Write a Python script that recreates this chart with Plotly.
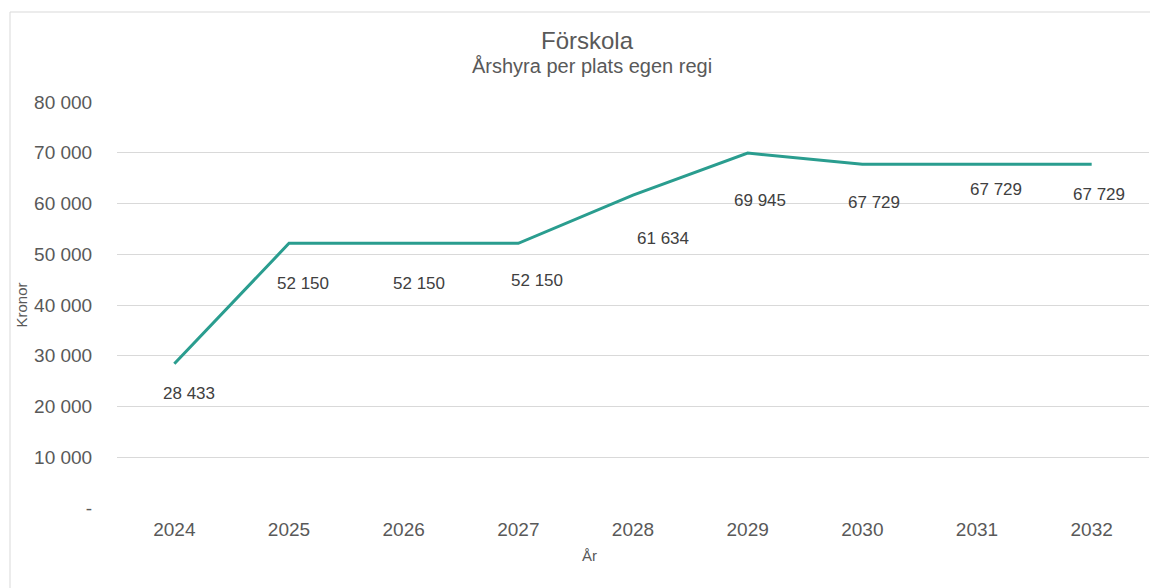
import plotly.graph_objects as go

years = ["2024", "2025", "2026", "2027", "2028", "2029", "2030", "2031", "2032"]
values = [28433, 52150, 52150, 52150, 61634, 69945, 67729, 67729, 67729]
labels = ["28 433", "52 150", "52 150", "52 150", "61 634", "69 945", "67 729", "67 729", "67 729"]
tick_vals = [0, 10000, 20000, 30000, 40000, 50000, 60000, 70000, 80000]
tick_text = ["-", "10 000", "20 000", "30 000", "40 000", "50 000", "60 000", "70 000", "80 000"]

# label offsets (pixels) as in the reference's manually placed data labels
label_dx = [15, 14, 15, 19, 30, 12, 12, 19, 7]
label_dy = [-30, -40, -40, -37, -43, -47, -38, -25, -30]

W, H = 1155, 588
L, R, T, B = 117, 6, 102, 80
FONT = "Liberation Sans, Arial, sans-serif"
GREY = "#595959"

fig = go.Figure()
fig.add_trace(go.Scatter(
    x=years, y=values, mode="lines",
    line=dict(color="#2A9D8F", width=3),
    hoverinfo="skip", showlegend=False,
))

for i, (v, t, dx, dy) in enumerate(zip(values, labels, label_dx, label_dy)):
    fig.add_annotation(x=i, y=v, xref="x", yref="y", text=t, showarrow=False,
                       xanchor="center", yanchor="middle", xshift=dx, yshift=dy,
                       font=dict(family=FONT, size=17, color="#404040"))

pw = W - L - R
ph = H - T - B
def px(x):
    return (x - L) / pw
def py(y):
    return 1 - (y - T) / ph

# chart frame
fig.add_shape(type="line", xref="paper", yref="paper", x0=px(10), x1=px(10), y0=py(12), y1=py(588),
              line=dict(color="#d9d9d9", width=1))
fig.add_shape(type="line", xref="paper", yref="paper", x0=px(10), x1=px(1150), y0=py(12), y1=py(12),
              line=dict(color="#d9d9d9", width=1))

fig.add_annotation(xref="paper", yref="paper", x=px(587), y=py(41), text="Förskola", showarrow=False,
                   xanchor="center", yanchor="middle",
                   font=dict(family=FONT, size=24, color=GREY))
fig.add_annotation(xref="paper", yref="paper", x=px(592), y=py(66), text="Årshyra per plats egen regi",
                   xanchor="center", yanchor="middle",
                   showarrow=False, font=dict(family=FONT, size=20, color=GREY))
# x-axis title (placed off-centre as in the reference)
fig.add_annotation(xref="paper", yref="paper", x=px(589), y=py(555), text="År",
                   xanchor="center", yanchor="middle",
                   showarrow=False, font=dict(family=FONT, size=15, color=GREY))

fig.update_layout(
    width=W, height=H,
    margin=dict(l=L, r=R, t=T, b=B),
    paper_bgcolor="white", plot_bgcolor="white",
    font=dict(family=FONT, color=GREY),
    showlegend=False,
    xaxis=dict(
        type="category", range=[-0.5, 8.5],
        showgrid=False, showline=False, zeroline=False,
        tickfont=dict(family=FONT, size=19, color=GREY),
        ticks="outside", ticklen=4, tickcolor="rgba(0,0,0,0)",
    ),
    yaxis=dict(
        range=[0, 80000], tickvals=tick_vals, ticktext=tick_text,
        showgrid=True, gridcolor="#d9d9d9", gridwidth=1,
        zeroline=False, showline=False,
        tickfont=dict(family=FONT, size=19, color=GREY),
        ticks="outside", ticklen=20, tickcolor="rgba(0,0,0,0)",
        title=dict(text="Kronor", font=dict(family=FONT, size=15, color=GREY), standoff=2),
    ),
)

fig.write_html("out.html", config={"displayModeBar": False},
               post_script="document.body.style.margin='0';")
